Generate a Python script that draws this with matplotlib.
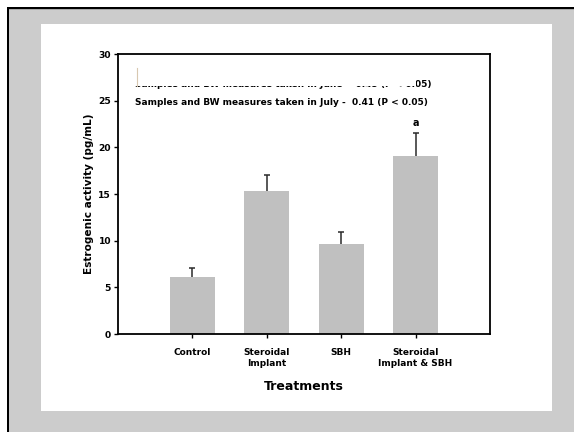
import matplotlib.pyplot as plt
from matplotlib.patches import Rectangle

plt.rcParams['font.family'] = ['DejaVu Sans']
plt.rcParams['font.weight'] = 'bold'

# data
treatments = ["Control", "Steroidal\nImplant", "SBH", "Steroidal\nImplant & SBH"]
means = [6.1, 15.3, 9.6, 19.05]
sem = [1.0, 1.7, 1.3, 2.45]
letters = ["", "", "", "a"]
note_june = "Samples and BW measures taken in June -  0.45 (P < 0.05)"
note_july = "Samples and BW measures taken in July -  0.41 (P < 0.05)"

W, H = 574, 432
fig = plt.figure(figsize=(W / 100, H / 100), dpi=100)
fig.patch.set_facecolor("white")


def fig_rect(x0, y0, x1, y1, **kw):
    # rectangle given in pixel coords (origin top-left)
    r = Rectangle((x0 / W, 1 - y1 / H), (x1 - x0) / W, (y1 - y0) / H,
                  transform=fig.transFigure, zorder=-10, **kw)
    fig.patches.append(r)


# outer frame: black top/left border, gray page, white panel
fig_rect(6.5, 6.5, W + 5, H + 5, facecolor="black", edgecolor="none")
fig_rect(9, 9, W + 5, H + 5, facecolor="#cccccc", edgecolor="none")
fig_rect(9, 9, W + 5, 10, facecolor="#a8a8a8", edgecolor="none")
fig_rect(41, 24, 552, 411, facecolor="white", edgecolor="none")

ax = fig.add_axes([118 / W, 1 - 334 / H, 372 / W, 280 / H])
ax.set_facecolor("white")

x = list(range(1, len(treatments) + 1))
tops = [m + s for m, s in zip(means, sem)]
ax.bar(x, means, width=0.6, color="#c0c0c0", zorder=2)
# upper error bars only
ax.vlines(x, means, tops, color="#2a2a2a", linewidth=1.1, zorder=3)
ax.plot(x, tops, linestyle="none", marker="_", markersize=5,
        markeredgewidth=1.1, color="#2a2a2a", zorder=3)
for xi, t, lab in zip(x, tops, letters):
    if lab:
        ax.text(xi, t + 0.6, lab, ha="center", va="bottom",
                fontsize=7, fontweight="bold")

ax.set_xlim(0, 5)
ax.set_ylim(0, 30)
ax.set_yticks([0, 5, 10, 15, 20, 25, 30])
ax.set_xticks(x)
ax.set_xticklabels(treatments, fontsize=6.5, fontweight="bold",
                   linespacing=1.25)
ax.tick_params(axis="y", labelsize=6.6, length=3, width=1, pad=2)
ax.tick_params(axis="x", length=3, width=1, pad=7)
for t in ax.get_yticklabels():
    t.set_fontweight("bold")

for sp in ax.spines.values():
    sp.set_linewidth(1.3)
    sp.set_color("black")

ax.set_ylabel("Estrogenic activity (pg/mL)", fontsize=7.6, fontweight="bold")
ax.yaxis.set_label_coords(-(118 - 94) / 372, 0.5)
ax.set_xlabel("Treatments", fontsize=9, fontweight="bold")
ax.xaxis.set_label_coords(0.5, -(380 - 334) / 280)

# legend-like notes; the upper one is mostly hidden behind a white box
ax.text(0.23, 26.42, note_june, fontsize=6.5, fontweight="bold",
        va="baseline", zorder=4)
ax.add_patch(Rectangle((0.2, 26.56), 3.8, 3.0, facecolor="white",
                       edgecolor="none", zorder=5))
ax.plot([0.25, 0.25], [26.6, 28.5], color="#d8c8b0", linewidth=0.8, zorder=6)
ax.text(0.23, 24.57, note_july, fontsize=6.5, fontweight="bold",
        va="baseline", zorder=4)

fig.savefig("out.png", dpi=100)
